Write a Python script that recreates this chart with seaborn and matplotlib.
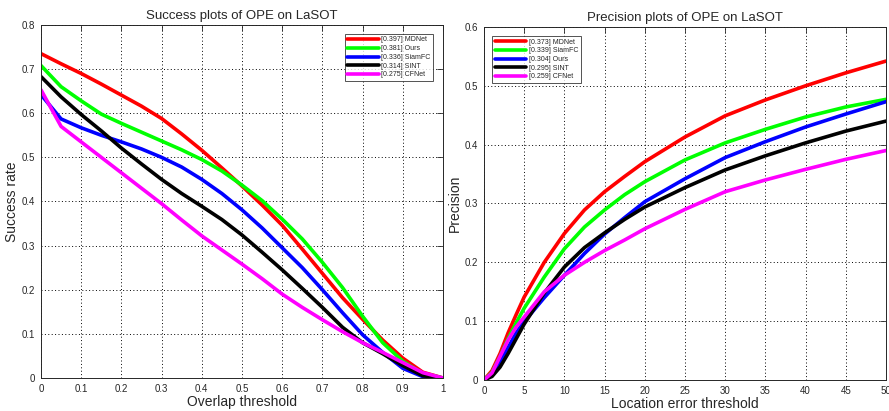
import matplotlib
matplotlib.use("Agg")
import matplotlib.pyplot as plt
import numpy as np
import pandas as pd
import seaborn as sns

# Success plot (overlap threshold 0..1, step 0.05)
overlap = [0, 0.05, 0.1, 0.15, 0.2, 0.25, 0.3, 0.35, 0.4, 0.45, 0.5,
           0.55, 0.6, 0.65, 0.7, 0.75, 0.8, 0.85, 0.9, 0.95, 1.0]
succ_mdnet = [0.735, 0.712, 0.690, 0.666, 0.641, 0.616, 0.588, 0.553, 0.516, 0.476, 0.435,
              0.392, 0.346, 0.292, 0.237, 0.182, 0.133, 0.086, 0.045, 0.013, 0.0]
succ_ours = [0.708, 0.660, 0.628, 0.598, 0.577, 0.557, 0.537, 0.517, 0.495, 0.469, 0.437,
             0.402, 0.360, 0.315, 0.262, 0.205, 0.140, 0.080, 0.038, 0.010, 0.0]
succ_siamfc = [0.642, 0.587, 0.567, 0.550, 0.535, 0.519, 0.500, 0.478, 0.450, 0.418, 0.381,
               0.340, 0.295, 0.250, 0.200, 0.148, 0.098, 0.058, 0.022, 0.003, 0.0]
succ_sint = [0.683, 0.637, 0.597, 0.560, 0.521, 0.485, 0.450, 0.418, 0.389, 0.359, 0.324,
             0.285, 0.245, 0.203, 0.160, 0.115, 0.080, 0.055, 0.028, 0.005, 0.0]
succ_cfnet = [0.653, 0.570, 0.535, 0.500, 0.465, 0.430, 0.395, 0.358, 0.322, 0.290, 0.258,
              0.225, 0.190, 0.160, 0.132, 0.105, 0.080, 0.058, 0.035, 0.012, 0.0]
succ_labels = ["[0.397] MDNet", "[0.381] Ours", "[0.336] SiamFC", "[0.314] SINT", "[0.275] CFNet"]

# Precision plot (location error threshold 0..50)
loc_err = [0, 1, 2, 3, 4, 5, 7.5, 10, 12.5, 15, 17.5, 20, 25, 30, 35, 40, 45, 50]
prec_mdnet = [0.0, 0.016, 0.045, 0.080, 0.111, 0.141, 0.200, 0.249, 0.289, 0.320, 0.346,
              0.371, 0.413, 0.449, 0.476, 0.500, 0.522, 0.542]
prec_siamfc = [0.0, 0.013, 0.040, 0.070, 0.097, 0.122, 0.175, 0.223, 0.260, 0.289, 0.315,
               0.337, 0.374, 0.403, 0.426, 0.447, 0.464, 0.477]
prec_ours = [0.0, 0.010, 0.030, 0.055, 0.080, 0.099, 0.140, 0.178, 0.215, 0.248, 0.276,
             0.303, 0.342, 0.378, 0.405, 0.430, 0.452, 0.473]
prec_sint = [0.0, 0.006, 0.022, 0.045, 0.070, 0.095, 0.148, 0.192, 0.225, 0.250, 0.273,
             0.294, 0.327, 0.357, 0.381, 0.403, 0.423, 0.440]
prec_cfnet = [0.0, 0.012, 0.040, 0.068, 0.090, 0.107, 0.150, 0.178, 0.200, 0.220, 0.238,
              0.257, 0.290, 0.320, 0.340, 0.358, 0.375, 0.390]
prec_labels = ["[0.373] MDNet", "[0.339] SiamFC", "[0.304] Ours", "[0.295] SINT", "[0.259] CFNet"]

line_colors = ["#ff0000", "#00ff00", "#0000ff", "#000000", "#ff00ff"]


def to_long(x, series, labels):
    frames = []
    for vals, lab in zip(series, labels):
        frames.append(pd.DataFrame({"x": x, "y": vals, "tracker": lab}))
    return pd.concat(frames, ignore_index=True)


def style_matlab(ax):
    ax.grid(True, color="black", linestyle=(0, (1, 2.5)), linewidth=0.7)
    ax.tick_params(direction="in", top=True, right=True, length=4, width=0.6,
                   labelsize=7, pad=4, colors="#262626")
    for sp in ax.spines.values():
        sp.set_visible(True)
        sp.set_color("#262626")
        sp.set_linewidth(0.7)


sns.set_style("white")
plt.rcParams["font.family"] = ["Liberation Sans", "DejaVu Sans"]

fig = plt.figure(figsize=(8.89, 4.11), dpi=100)
ax1 = fig.add_axes([0.0461, 0.0803, 0.4522, 0.859])
ax2 = fig.add_axes([0.5444, 0.0754, 0.4522, 0.859])

succ_df = to_long(overlap, [succ_mdnet, succ_ours, succ_siamfc, succ_sint, succ_cfnet], succ_labels)
sns.lineplot(data=succ_df, x="x", y="y", hue="tracker", palette=line_colors,
             linewidth=2.6, ax=ax1, sort=False)
ax1.set_xlim(0, 1)
ax1.set_ylim(0, 0.8)
ax1.set_xticks(np.arange(0, 1.01, 0.1))
ax1.set_xticklabels(["0", "0.1", "0.2", "0.3", "0.4", "0.5", "0.6", "0.7", "0.8", "0.9", "1"])
ax1.set_yticks(np.arange(0, 0.81, 0.1))
ax1.set_yticklabels(["0", "0.1", "0.2", "0.3", "0.4", "0.5", "0.6", "0.7", "0.8"])
ax1.set_xlabel("Overlap threshold", fontsize=10, labelpad=1)
ax1.set_ylabel("Success rate", fontsize=10, labelpad=2)
ax1.set_title("Success plots of OPE on LaSOT", fontsize=9.5, pad=4)
style_matlab(ax1)
leg1 = ax1.legend(loc="upper right", fontsize=5, frameon=True, fancybox=False,
                  handlelength=4.5, handletextpad=0.4, borderpad=0.4, labelspacing=0.25,
                  bbox_to_anchor=(0.985, 0.985))
leg1.get_frame().set_edgecolor("#262626")
leg1.get_frame().set_linewidth(0.7)

prec_df = to_long(loc_err, [prec_mdnet, prec_siamfc, prec_ours, prec_sint, prec_cfnet], prec_labels)
sns.lineplot(data=prec_df, x="x", y="y", hue="tracker", palette=line_colors,
             linewidth=2.6, ax=ax2, sort=False)
ax2.set_xlim(0, 50)
ax2.set_ylim(0, 0.6)
ax2.set_xticks(np.arange(0, 51, 5))
ax2.set_yticks(np.arange(0, 0.61, 0.1))
ax2.set_yticklabels(["0", "0.1", "0.2", "0.3", "0.4", "0.5", "0.6"])
ax2.set_xlabel("Location error threshold", fontsize=10, labelpad=1)
ax2.set_ylabel("Precision", fontsize=10, labelpad=2)
ax2.set_title("Precision plots of OPE on LaSOT", fontsize=9.5, pad=4)
style_matlab(ax2)
leg2 = ax2.legend(loc="upper left", fontsize=5, frameon=True, fancybox=False,
                  handlelength=4.5, handletextpad=0.4, borderpad=0.4, labelspacing=0.25,
                  bbox_to_anchor=(0.012, 0.985))
leg2.get_frame().set_edgecolor("#262626")
leg2.get_frame().set_linewidth(0.7)

fig.savefig("out.png", dpi=100)
